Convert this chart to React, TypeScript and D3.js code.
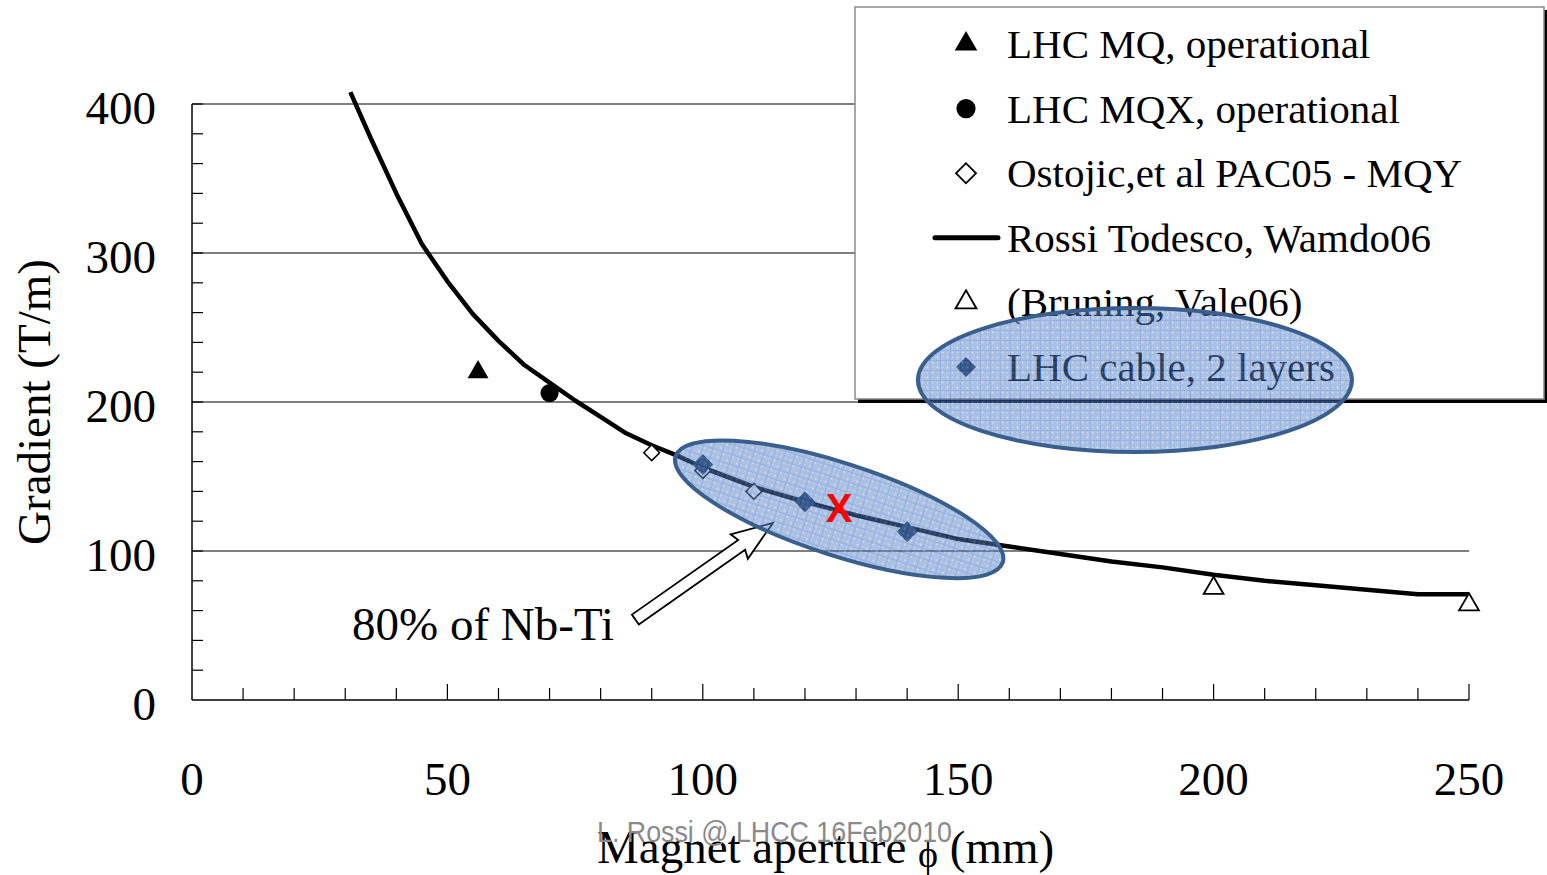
import React from 'react';
import * as d3 from 'd3';

// Rossi Todesco, Wamdo06 curve
const curveX = [31, 35, 40, 45, 50, 55, 60, 65, 70, 75, 80, 85, 90, 95, 100, 110, 120, 130, 140, 150, 160, 170, 180, 190, 200, 210, 220, 230, 240, 250];
const curveY = [408, 377, 340, 306, 281, 259, 241, 225, 213, 201, 190, 179, 171, 164, 156, 143, 133, 124, 116, 108, 103, 98, 93, 89, 84, 80, 77, 74, 71, 71];
// LHC MQ, operational
const mqX = [56];
const mqY = [220];
// LHC MQX, operational
const mqxX = [70];
const mqxY = [206];
// Ostojic, et al PAC05 - MQY
const ostX = [90, 100, 110];
const ostY = [166, 154, 140];
// (Bruning, Vale06)
const brunX = [200, 250];
const brunY = [75, 64];
// LHC cable, 2 layers
const cableX = [100, 120, 140];
const cableY = [158, 133, 113];
// red X point
const redX = [126.7];
const redY = [129];
// annotation arrow (tail -> tip)
const arrowTail = [86.8, 54];
const arrowTip = [113.7, 118.8];
const ellipse1Center = [126.7, 128];
const ellipse2Center = [184.6, 214.8];

const xTicks = [0, 50, 100, 150, 200, 250];
const yTicks = [0, 100, 200, 300, 400];
const xMinor = d3.range(0, 251, 10);
const yMinor = d3.range(0, 401, 20);

const legendLabels = [
  'LHC MQ, operational',
  'LHC MQX, operational',
  'Ostojic,et al PAC05 - MQY',
  'Rossi Todesco, Wamdo06',
  '(Bruning, Vale06)',
  'LHC cable, 2 layers',
];

const SERIF = '"Liberation Serif", "Times New Roman", "DejaVu Serif", serif';
const SANS = '"Liberation Sans Narrow", "Liberation Sans", Arial, sans-serif';

export default function App() {
  const W = 1547, H = 875;
  const x = d3.scaleLinear().domain([0, 250]).range([192, 1469]);
  const y = d3.scaleLinear().domain([0, 400]).range([700, 104]);

  const line = d3.line<number>().x((d, i) => x(curveX[i])).y((d, i) => y(curveY[i]));
  const curvePath = line(curveY) || '';

  const sym = (type: any, size: number) => d3.symbol().type(type).size(size)() || '';
  const triBig = sym(d3.symbolTriangle, 190);
  const triLeg = sym(d3.symbolTriangle, 220);
  const circ = sym(d3.symbolCircle, 260);
  const circLeg = sym(d3.symbolCircle, 290);
  const diamOpen = sym(d3.symbolSquare, 125);
  const diamLeg = sym(d3.symbolSquare, 200);
  const diamCable = sym(d3.symbolSquare, 185);
  const triOpen = sym(d3.symbolTriangle, 170);
  const triOpenLeg = sym(d3.symbolTriangle, 190);

  // arrow polygon
  const ax0 = x(arrowTail[0]), ay0 = y(arrowTail[1]);
  const ax1 = x(arrowTip[0]), ay1 = y(arrowTip[1]);
  const L = Math.hypot(ax1 - ax0, ay1 - ay0);
  const ux = (ax1 - ax0) / L, uy = (ay1 - ay0) / L;
  const nx = -uy, ny = ux;
  const sh = 6, hh = 15, hl = 38;
  const bx = ax1 - ux * hl, by = ay1 - uy * hl;
  const arrowPts = [
    [ax0 + nx * sh, ay0 + ny * sh],
    [bx + nx * sh, by + ny * sh],
    [bx + nx * hh - ux * 3, by + ny * hh - uy * 3],
    [ax1, ay1],
    [bx - nx * hh - ux * 3, by - ny * hh - uy * 3],
    [bx - nx * sh, by - ny * sh],
    [ax0 - nx * sh, ay0 - ny * sh],
  ].map((p) => p.join(',')).join(' ');

  const legX = 966, legTextX = 1007;
  const rowY = (i: number) => 44 + i * 64.6;

  return (
    <svg width={W} height={H} style={{ position: 'absolute', left: 0, top: 0, background: '#fff' }}>
      <defs>
        <pattern id="gridpat" width="10" height="10" patternUnits="userSpaceOnUse">
          <rect width="10" height="10" fill="#5683c6" />
          <circle cx="2.5" cy="2.5" r="0.9" fill="#ffffff" opacity="0.55" />
          <circle cx="7.5" cy="7.5" r="0.9" fill="#ffffff" opacity="0.55" />
          <circle cx="7.5" cy="2.5" r="0.7" fill="#ffffff" opacity="0.35" />
          <circle cx="2.5" cy="7.5" r="0.7" fill="#ffffff" opacity="0.35" />
          <path d="M0 0.5H10M0.5 0V10" stroke="#2f66c8" strokeWidth="1" />
        </pattern>
      </defs>
      <rect width={W} height={H} fill="#fff" />

      {/* gridlines */}
      {yTicks.filter((v) => v > 0).map((v) => (
        <line key={'g' + v} x1={x(0)} x2={x(250)} y1={y(v)} y2={y(v)} stroke="#000" strokeWidth={1.2} />
      ))}
      {/* axes */}
      <line x1={x(0)} x2={x(250)} y1={y(0)} y2={y(0)} stroke="#000" strokeWidth={1.5} />
      <line x1={x(0)} x2={x(0)} y1={y(0)} y2={y(400)} stroke="#000" strokeWidth={1.5} />
      {xMinor.filter((v) => v > 0).map((v) => (
        <line key={'xt' + v} x1={x(v)} x2={x(v)} y1={y(0)} y2={y(0) - (v % 50 === 0 ? 16 : 12)} stroke="#000" strokeWidth={1.2} />
      ))}
      {yMinor.filter((v) => v > 0).map((v) => (
        <line key={'yt' + v} x1={x(0)} x2={x(0) + 11} y1={y(v)} y2={y(v)} stroke="#000" strokeWidth={1.2} />
      ))}
      {/* tick labels */}
      {yTicks.map((v) => (
        <text key={'yl' + v} x={156} y={y(v) + 20} textAnchor="end" fontFamily={SERIF} fontSize={47}>{v}</text>
      ))}
      {xTicks.map((v) => (
        <text key={'xl' + v} x={x(v)} y={795} textAnchor="middle" fontFamily={SERIF} fontSize={47}>{v}</text>
      ))}
      {/* axis titles */}
      <text transform="translate(50,402) rotate(-90)" textAnchor="middle" fontFamily={SERIF} fontSize={47}>Gradient (T/m)</text>
      <text x={597} y={863} fontFamily={SERIF} fontSize={47}>
        Magnet aperture <tspan dy={4} fontSize={38}>ϕ</tspan><tspan dy={-4}> (mm)</tspan>
      </text>
      <text x={597} y={842} fontFamily={SANS} fontSize={30} fill="#8a8a8a" textLength={355} lengthAdjust="spacingAndGlyphs">L. Rossi @ LHCC 16Feb2010</text>

      {/* curve */}
      <path d={curvePath} fill="none" stroke="#000" strokeWidth={4.5} strokeLinejoin="round" />

      {/* markers */}
      {mqX.map((v, i) => (
        <path key={'mq' + i} d={triBig} transform={`translate(${x(v)},${y(mqY[i])})`} fill="#000" />
      ))}
      {mqxX.map((v, i) => (
        <path key={'mqx' + i} d={circ} transform={`translate(${x(v)},${y(mqxY[i])})`} fill="#000" />
      ))}
      {ostX.map((v, i) => (
        <path key={'os' + i} d={diamOpen} transform={`translate(${x(v)},${y(ostY[i])}) rotate(45)`} fill="#fff" stroke="#000" strokeWidth={1.5} />
      ))}
      {brunX.map((v, i) => (
        <path key={'br' + i} d={triOpen} transform={`translate(${x(v)},${y(brunY[i])})`} fill="#fff" stroke="#000" strokeWidth={1.8} />
      ))}
      {cableX.map((v, i) => (
        <path key={'cb' + i} d={diamCable} transform={`translate(${x(v)},${y(cableY[i])}) rotate(45)`} fill="#1c3150" stroke="#1c3150" strokeWidth={1} />
      ))}

      {/* legend box */}
      <rect x={858} y={10} width={700} height={393} fill="#000" />
      <rect x={855} y={7} width={689} height={392} fill="#fff" stroke="#8a8a8a" strokeWidth={1.5} />
      <path d={triLeg} transform={`translate(${legX},${rowY(0)})`} fill="#000" />
      <path d={circLeg} transform={`translate(${legX},${rowY(1)})`} fill="#000" />
      <path d={diamLeg} transform={`translate(${legX},${rowY(2)}) rotate(45)`} fill="#fff" stroke="#000" strokeWidth={1.8} />
      <line x1={935} x2={998} y1={rowY(3)} y2={rowY(3)} stroke="#000" strokeWidth={5} strokeLinecap="round" />
      <path d={triOpenLeg} transform={`translate(${legX},${rowY(4)})`} fill="#fff" stroke="#000" strokeWidth={1.8} />
      <path d={diamLeg} transform={`translate(${legX},${rowY(5)}) rotate(45)`} fill="#1c3150" />
      {legendLabels.map((t, i) => (
        <text key={'lt' + i} x={legTextX} y={rowY(i) + 14} fontFamily={SERIF} fontSize={41}>{t}</text>
      ))}

      {/* annotation */}
      <text x={352} y={640} fontFamily={SERIF} fontSize={47}>80% of Nb-Ti</text>
      <polygon points={arrowPts} fill="#fff" stroke="#000" strokeWidth={1.8} strokeLinejoin="miter" />

      {/* ellipses */}
      <ellipse cx={x(ellipse1Center[0])} cy={y(ellipse1Center[1])} rx={172} ry={46}
        transform={`rotate(18,${x(ellipse1Center[0])},${y(ellipse1Center[1])})`}
        fill="url(#gridpat)" fillOpacity={0.5} stroke="#3b5f8d" strokeWidth={4} />
      <ellipse cx={x(ellipse2Center[0])} cy={y(ellipse2Center[1])} rx={217} ry={72}
        fill="url(#gridpat)" fillOpacity={0.5} stroke="#3b5f8d" strokeWidth={4} />

      {/* red X */}
      {redX.map((v, i) => (
        <text key={'rx' + i} x={x(v)} y={y(redY[i]) + 14} textAnchor="middle" fontFamily='"Liberation Sans", Arial, sans-serif' fontWeight="bold" fontSize={40} fill="#ff0000">X</text>
      ))}
    </svg>
  );
}
